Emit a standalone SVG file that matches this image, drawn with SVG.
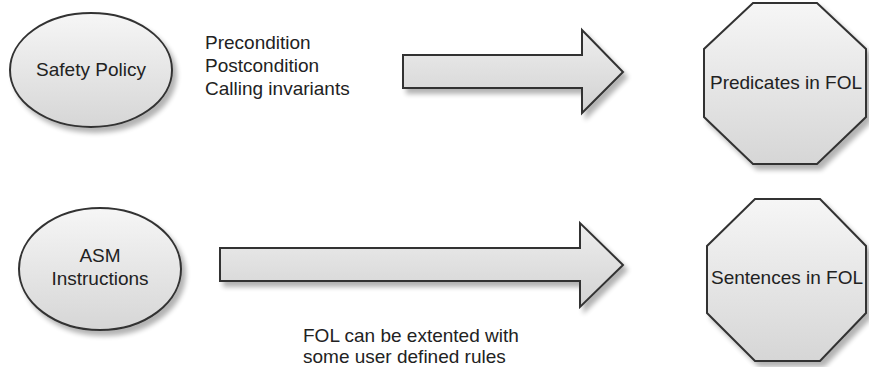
<svg xmlns="http://www.w3.org/2000/svg" width="869" height="367" viewBox="0 0 869 367">
<defs>
<linearGradient id="gShape" x1="0" y1="0" x2="0" y2="1">
<stop offset="0" stop-color="#f6f6f6"/>
<stop offset="1" stop-color="#d6d6d6"/>
</linearGradient>
<linearGradient id="gArrow" x1="0" y1="0" x2="0" y2="1">
<stop offset="0" stop-color="#eeeeee"/>
<stop offset="1" stop-color="#d2d2d2"/>
</linearGradient>
<filter id="shadow" x="-10%" y="-10%" width="130%" height="130%">
<feGaussianBlur in="SourceAlpha" stdDeviation="2.5"/>
<feOffset dx="4" dy="5" result="b"/>
<feComponentTransfer><feFuncA type="linear" slope="0.3"/></feComponentTransfer>
<feMerge><feMergeNode/><feMergeNode in="SourceGraphic"/></feMerge>
</filter>
</defs>
<style>
.shape{fill:url(#gShape);stroke:#333;stroke-width:2;filter:url(#shadow)}
.arrow{fill:url(#gArrow);stroke:#333;stroke-width:2;stroke-linejoin:miter;filter:url(#shadow)}
text{font-family:"Liberation Sans",Arial,sans-serif;font-size:19px;fill:#222}
.c{text-anchor:middle}
</style>
<rect width="869" height="367" fill="#ffffff"/>
<g id="connectors">
<path class="arrow" d="M403,55 H582 V30 L623,72 L582,113 V88 H403 Z"/>
<path class="arrow" d="M220,248 H580 V223 L623,265 L580,307 V281 H220 Z"/>
<text x="205" y="49">Precondition</text>
<text x="205" y="72">Postcondition</text>
<text x="205" y="95">Calling invariants</text>
<text x="303" y="342">FOL can be extented with</text>
<text x="303" y="363">some user defined rules</text>
</g>
<g id="safety-policy">
<ellipse class="shape" cx="91" cy="70" rx="81" ry="57"/>
<text class="c" x="91" y="76">Safety Policy</text>
</g>
<g id="asm-instructions">
<ellipse class="shape" cx="100" cy="269" rx="81" ry="61"/>
<text class="c" x="100" y="262">ASM</text>
<text class="c" x="100" y="285">Instructions</text>
</g>
<g id="predicates-fol">
<polygon class="shape" points="753,3 817,3 866,49 866,117 817,164 753,164 704,117 704,49"/>
<text class="c" x="786" y="89">Predicates in FOL</text>
</g>
<g id="sentences-fol">
<polygon class="shape" points="755,199 820,199 866,246 866,313 820,361 755,361 707,313 707,246"/>
<text class="c" x="787" y="284">Sentences in FOL</text>
</g>
</svg>
